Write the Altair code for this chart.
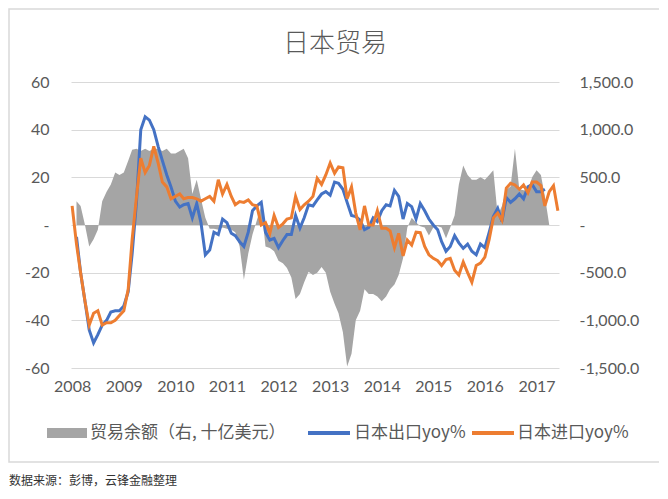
import altair as alt
import pandas as pd

# ---------------- data ----------------
years = list(range(2008, 2018))
months = pd.date_range("2008-01-01", periods=114, freq="MS")

# trade balance (right axis)
balance = [
    None, 250, 200, 0, -225, -150, -50, 250, 350, 425, 550, 525,
    550, 675, 790, 800, 775, 800, 775, 800, 800, 775, 800, 750,
    750, 775, 800, 700, 325, 475, 275, 75, -40, -40, -50, -25,
    -40, -50, -75, -225, -575, -300, -100, 50, 200, -225, -240, -275,
    -375, -400, -450, -550, -775, -725, -600, -490, -525, -500, -440, -500,
    -700, -825, -925, -1125, -1485, -1350, -1000, -900, -675, -725, -725, -750,
    -800, -750, -675, -625, -525, -350, -25, 75, 25, -12, -25, -110,
    -25, -12, -25, -140, -25, 100, 425, 625, 525, 475, 475, 500,
    475, 525, 575, 100, 200, 375, 400, 800, 375, 365, 365, 500,
    575, 525, 300, 0, None, None,
]

# Japan exports yoy %
exports = [
    None, -5, -20, -32, -44, -49.5, -46, -42, -40, -36.5, -36, -36,
    -34, -28, -12, 10, 40, 45.4, 44, 40, 33, 27, 21, 16,
    10, 7.5, 8.5, 9, 3, 9, 1, -12.5, -10.5, -3, -4, 2.5,
    1, -3.5, -4.5, -7, -9, -3, 6, 8, 9.5, -3, -6.3, -5.6,
    -9.5, -6.5, -4, -4, 4, -1.3, 3, 8.5, 8, 10.5, 13, 14,
    12.5, 18, 17.5, 15, 9.5, 4, 3.5, 2, -2, -1, 3, 1.5,
    6, 8.5, 8, 14.5, 12, 2.5, 9, 7.7, 2.5, 9, 6, 2.5,
    0, -2, -7, -11, -9, -4.5, -7.5, -9.8, -8, -11, -12.5, -8,
    -9.5, -3, 3.5, 7, 1.5, 11.5, 9.5, 11, 13, 11, 16, 17,
    14, 14, 15, None, None, None,
]

# Japan imports yoy %
imports = [
    8, -8, -20, -32, -42, -37, -36, -42, -41, -41, -40, -38,
    -36, -27, -6, 12, 28, 22, 25, 33, 26, 18, 16, 11,
    12, 13, 11, 11.5, 11.5, 11, 10, 11, 12, 10, 19, 13,
    17, 12, 8.5, 9.8, 9.5, 10.5, 8.5, 8, 0, 1, -3.5, 4,
    -1, 0.5, 2.5, 3, 12, 6.5, 8.5, 10, 12, 19.6, 17, 21,
    26, 21.7, 24.4, 24, 11, 16, 5, -2, 8, 0, 0, 6,
    -1.4, -1.4, -2.5, -9.5, -3.5, -13, -6.3, -8.4, -3, -3.2, -9, -12.5,
    -14, -15, -17, -14.5, -14, -19, -21, -15.5, -20, -24, -17, -16,
    -13.5, -6, 3, 5, 2, 15.5, 17.5, 16.8, 15, 16.8, 13.5, 18,
    18, 16.5, 8, 14, 16.5, 6,
]

series_names = ["日本出口yoy%", "日本进口yoy%"]
balance_name = "贸易余额（右, 十亿美元）"
title_text = "日本贸易"
source_text = "数据来源：彭博，云锋金融整理"

left_ticks = [-60, -40, -20, 0, 20, 40, 60]
right_ticks = [-1500, -1000, -500, 0, 500, 1000, 1500]

# ---------------- tables ----------------
df = pd.DataFrame({"date": months, "balance": balance})
lines_df = pd.DataFrame({
    "date": list(months) * 2,
    "series": [series_names[0]] * len(months) + [series_names[1]] * len(months),
    "yoy": exports + imports,
})

GREY_TXT = "#595959"
NUM_FONT = "Lato"
CJK_FONT = "Noto Sans CJK SC"
W, H = 488, 286

x_scale = alt.Scale(domain=[alt.DateTime(year=2007, month=12, date=24),
                            alt.DateTime(year=2017, month=6, date=9)])
x_axis = alt.Axis(values=[alt.DateTime(year=y, month=1, date=1) for y in years],
                  format="%Y", title=None, ticks=False, domain=False, grid=False,
                  labelFontSize=16, labelColor=GREY_TXT, labelFont=NUM_FONT,
                  labelPadding=10, labelFlush=False)

area = alt.Chart(df).mark_area(color="#a5a5a5", opacity=1).encode(
    x=alt.X("date:T", scale=x_scale, axis=x_axis),
    y=alt.Y("balance:Q", stack=None,
            scale=alt.Scale(domain=[-1500, 1500], nice=False, zero=True),
            axis=alt.Axis(orient="right", values=right_ticks, title=None,
                          grid=False, ticks=False, domain=False,
                          labelPadding=20, labelFontSize=16, labelColor=GREY_TXT,
                          labelFont=NUM_FONT,
                          labelExpr="datum.value == 0 ? '-' : (datum.value < 0 ? '-' : '') + format(abs(datum.value), ',.1f')")),
)

lines = alt.Chart(lines_df).mark_line(strokeWidth=3).encode(
    x=alt.X("date:T", scale=x_scale, axis=x_axis),
    y=alt.Y("yoy:Q", scale=alt.Scale(domain=[-60, 60], nice=False),
            axis=alt.Axis(orient="left", values=left_ticks, title=None,
                          grid=True, gridColor="#d9d9d9", gridWidth=1,
                          ticks=False, domain=False,
                          labelPadding=22, labelFontSize=16, labelColor=GREY_TXT,
                          labelFont=NUM_FONT,
                          labelExpr="datum.value == 0 ? '-' : '' + datum.value")),
    color=alt.Color("series:N", scale=alt.Scale(domain=series_names,
                                                range=["#4472c4", "#ed7d31"]),
                    legend=None),
)

one = pd.DataFrame({"a": [0]})

frame = alt.Chart(one).mark_rect(fillOpacity=0, stroke="#d9d9d9", strokeWidth=1.5).encode(
    x=alt.value(-62), x2=alt.value(592), y=alt.value(-73), y2=alt.value(380))

title = alt.Chart(one).mark_text(text=title_text, font=CJK_FONT, fontSize=26,
                                 fontWeight=300, color=GREY_TXT, align="center",
                                 baseline="middle").encode(
    x=alt.value(264), y=alt.value(-38))

source = alt.Chart(one).mark_text(text=source_text, font=CJK_FONT, fontSize=12,
                                  color="#333333", align="left",
                                  baseline="middle").encode(
    x=alt.value(-62), y=alt.value(399))

LEG_Y = 351
leg_swatch = alt.Chart(one).mark_rect(color="#a5a5a5").encode(
    x=alt.value(-24), x2=alt.value(16), y=alt.value(LEG_Y - 5), y2=alt.value(LEG_Y + 5))
leg_blue = alt.Chart(one).mark_rule(color="#4472c4", strokeWidth=4).encode(
    x=alt.value(237), x2=alt.value(279), y=alt.value(LEG_Y))
leg_orange = alt.Chart(one).mark_rule(color="#ed7d31", strokeWidth=4).encode(
    x=alt.value(401), x2=alt.value(443), y=alt.value(LEG_Y))

def leg_text(txt, xpos):
    return alt.Chart(one).mark_text(text=txt, font=CJK_FONT, fontSize=17,
                                    color=GREY_TXT, align="left",
                                    baseline="middle").encode(
        x=alt.value(xpos), y=alt.value(LEG_Y))

chart = alt.layer(
    frame,
    area,
    lines,
    title, source, leg_swatch, leg_blue, leg_orange,
    leg_text(balance_name, 19),
    leg_text(series_names[0], 283),
    leg_text(series_names[1], 446),
).resolve_scale(y="independent").properties(
    width=W, height=H,
    autosize=alt.AutoSizeParams(type="none"),
    padding={"left": 63, "top": 74, "right": 100, "bottom": 128},
    background="white",
).configure_view(stroke=None)

chart.save("out.html", embed_options={"renderer": "svg", "actions": False})
